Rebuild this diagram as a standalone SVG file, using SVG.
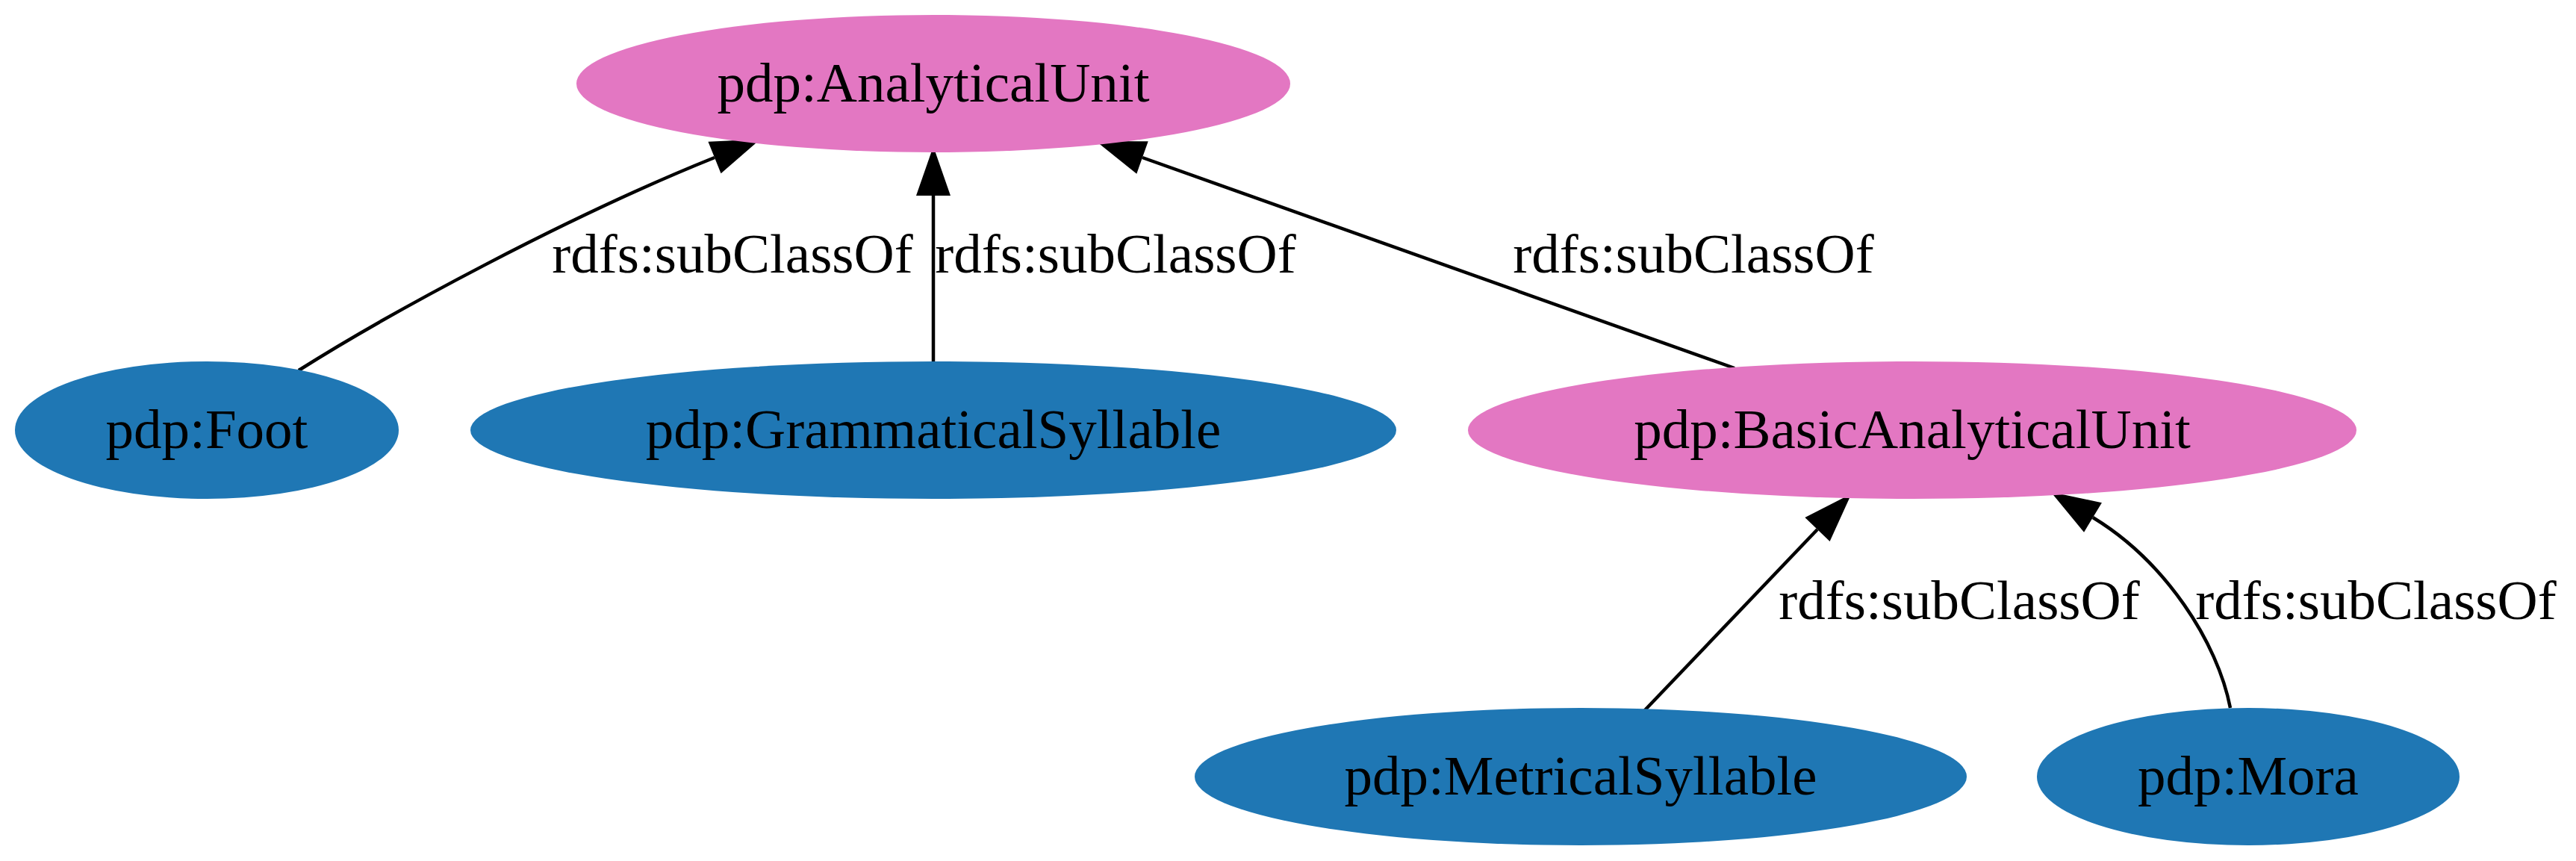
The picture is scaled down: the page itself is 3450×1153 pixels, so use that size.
<svg xmlns="http://www.w3.org/2000/svg" width="3450" height="1153" viewBox="0 0 3450 1153">
<style>
.pink{fill:#e377c2;}
.blue{fill:#1f77b4;}
.lbl{font-family:"Liberation Serif","Times New Roman",serif;font-size:75px;fill:#000;text-anchor:middle;}
.edge{fill:none;stroke:#000;stroke-width:4.5;marker-end:url(#arr);}
</style>
<defs>
<marker id="arr" markerUnits="userSpaceOnUse" markerWidth="68" markerHeight="48" refX="0" refY="23" orient="auto" overflow="visible">
<path d="M0,0 L66,23 L0,46 Z" fill="#000"/>
</marker>
</defs>
<rect width="3450" height="1153" fill="#fff"/>
<g id="connectors">
<path class="edge" d="M 400 496 C 520 420, 760 290, 957 211"/>
<text class="lbl" x="981" y="365">rdfs:subClassOf</text>
<path class="edge" d="M 1250 484 L 1250 262"/>
<text class="lbl" x="1494" y="365">rdfs:subClassOf</text>
<path class="edge" d="M 2323 493 L 1530 211"/>
<text class="lbl" x="2268" y="365">rdfs:subClassOf</text>
<path class="edge" d="M 2202 952 L 2434 709"/>
<text class="lbl" x="2624" y="829">rdfs:subClassOf</text>
<path class="edge" d="M 2987 948 C 2970 860, 2900 752, 2803 693"/>
<text class="lbl" x="3182" y="829">rdfs:subClassOf</text>
</g>
<g id="node-AnalyticalUnit">
<ellipse class="pink" cx="1250" cy="112" rx="478" ry="92"/>
<text class="lbl" x="1250" y="136">pdp:AnalyticalUnit</text>
</g>
<g id="node-Foot">
<ellipse class="blue" cx="277" cy="576" rx="257" ry="92"/>
<text class="lbl" x="277" y="600">pdp:Foot</text>
</g>
<g id="node-GrammaticalSyllable">
<ellipse class="blue" cx="1250" cy="576" rx="620" ry="92"/>
<text class="lbl" x="1250" y="600">pdp:GrammaticalSyllable</text>
</g>
<g id="node-BasicAnalyticalUnit">
<ellipse class="pink" cx="2561" cy="576" rx="595" ry="92"/>
<text class="lbl" x="2561" y="600">pdp:BasicAnalyticalUnit</text>
</g>
<g id="node-MetricalSyllable">
<ellipse class="blue" cx="2117" cy="1040" rx="517" ry="92"/>
<text class="lbl" x="2117" y="1064">pdp:MetricalSyllable</text>
</g>
<g id="node-Mora">
<ellipse class="blue" cx="3011" cy="1040" rx="283" ry="92"/>
<text class="lbl" x="3011" y="1064">pdp:Mora</text>
</g>
</svg>
